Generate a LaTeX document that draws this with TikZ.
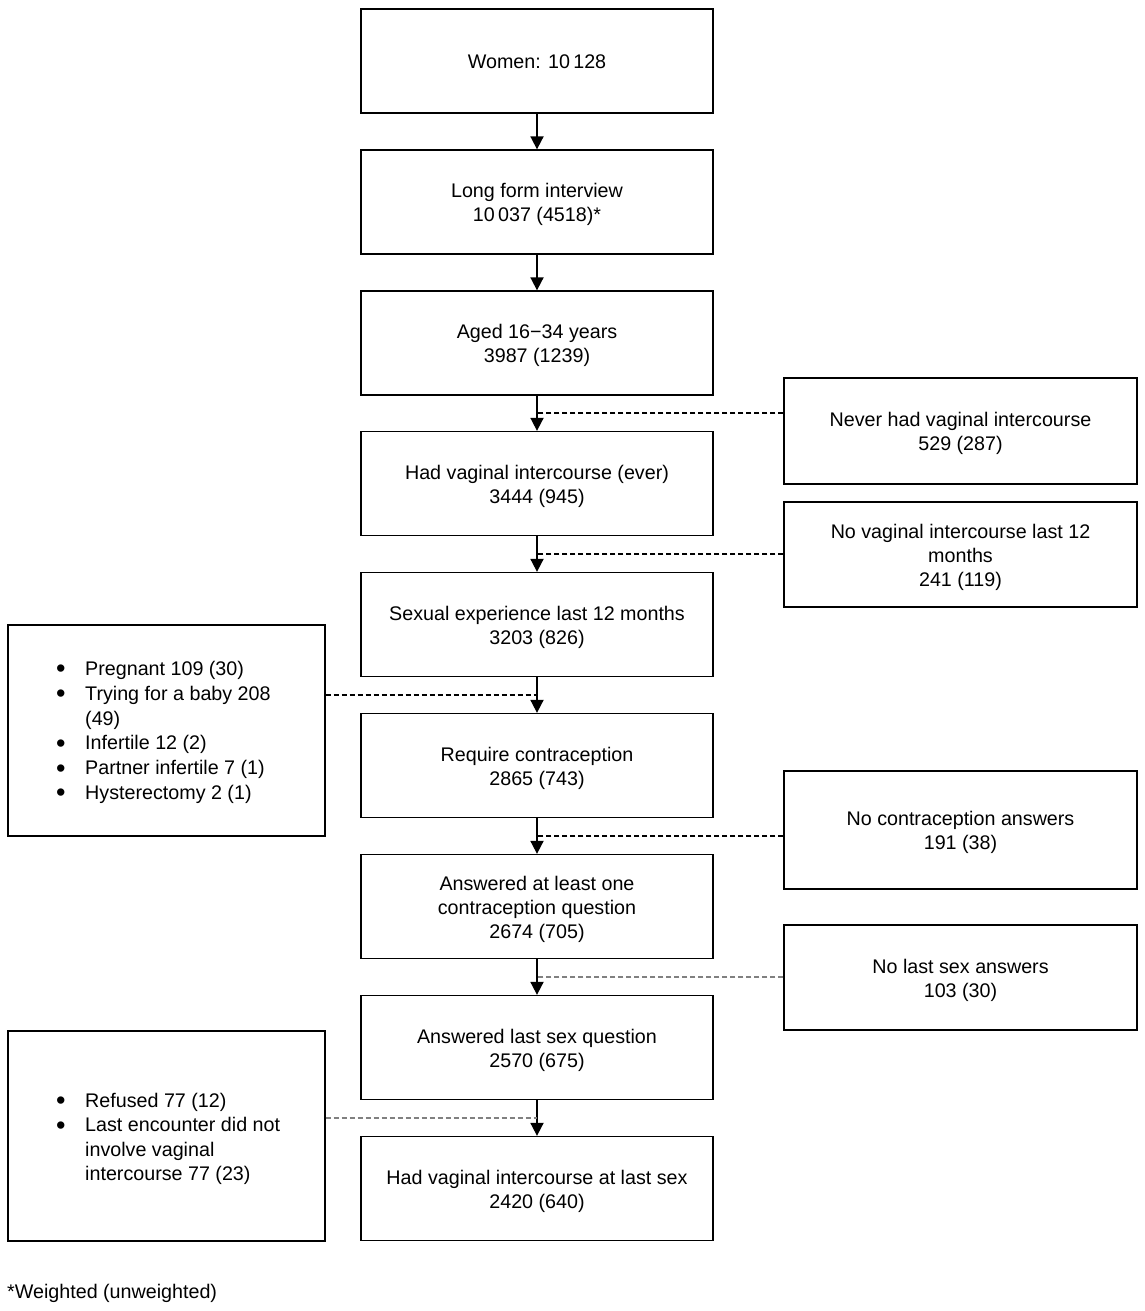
\documentclass[tikz,border=0pt]{standalone}
\usepackage{fontspec}
\setmainfont{Liberation Sans}
\usetikzlibrary{calc,arrows.meta}
\newcommand\bul{\makebox[28pt][l]{\hspace*{-1pt}\raisebox{-2.5pt}{\fontsize{27}{27}\selectfont\textbullet}}}
\newcommand\tx[1]{\raisebox{-3pt}[\height][\depth]{\begin{tabular}{@{}c@{}}#1\end{tabular}}}
\begin{document}
\begin{tikzpicture}[x=1pt,y=-1pt,
  box/.style={draw,line width=1.3pt,align=center,inner sep=0pt,font=\fontsize{19.7}{24}\selectfont},
  mainbox/.style={box,minimum width=352pt,minimum height=104pt},
  sidebox/.style={box,minimum width=353pt},
  leftbox/.style={box,minimum width=317pt},
  arr/.style={line width=1.8pt,-{Triangle[width=13pt,length=13pt]}},
  dsh/.style={line width=1.6pt,dash pattern=on 5pt off 3pt},
  gdsh/.style={dsh,draw=gray,line width=1.9pt}]
\useasboundingbox (0,0) rectangle (1145,1311);
\node[mainbox] (b1) at (537,61) {\tx{Women: 10\,128}};
\node[mainbox] (b2) at (537,202) {\tx{Long form interview\\10\,037 (4518)*}};
\node[mainbox] (b3) at (537,343) {\tx{Aged 16\textminus34 years\\3987 (1239)}};
\node[mainbox] (b4) at (537,483.5) {\tx{Had vaginal intercourse (ever)\\3444 (945)}};
\node[mainbox] (b5) at (537,624.5) {\tx{Sexual experience last 12 months\\3203 (826)}};
\node[mainbox] (b6) at (537,765.5) {\tx{Require contraception\\2865 (743)}};
\node[mainbox] (b7) at (537,906.5) {\tx{Answered at least one\\contraception question\\2674 (705)}};
\node[mainbox] (b8) at (537,1047.5) {\tx{Answered last sex question\\2570 (675)}};
\node[mainbox] (b9) at (537,1188.5) {\tx{Had vaginal intercourse at last sex\\2420 (640)}};
\node[sidebox,minimum height=106pt] (r1) at (960.5,431) {\tx{Never had vaginal intercourse\\529 (287)}};
\node[sidebox,minimum height=105pt] (r2) at (960.5,554.5) {\tx{No vaginal intercourse last 12\\months\\241 (119)}};
\node[sidebox,minimum height=118pt] (r3) at (960.5,830) {\tx{No contraception answers\\191 (38)}};
\node[sidebox,minimum height=105pt] (r4) at (960.5,977.5) {\tx{No last sex answers\\103 (30)}};
\node[leftbox,minimum height=211pt] (l1) at (166.5,730.5) {};
\node[leftbox,minimum height=210pt] (l2) at (166.5,1136) {};
\node[anchor=north west,align=left,inner sep=0pt,font=\fontsize{19.7}{24.8}\selectfont] (l1t) at (57,661)
 {\bul Pregnant 109 (30)\\\bul Trying for a baby 208\\\hspace*{28pt}(49)\\\bul Infertile 12 (2)\\\bul Partner infertile 7 (1)\\\bul Hysterectomy 2 (1)};
\node[anchor=north west,align=left,inner sep=0pt,font=\fontsize{19.7}{24.5}\selectfont] (l2t) at (57,1093)
 {\bul Refused 77 (12)\\\bul Last encounter did not\\\hspace*{28pt}involve vaginal\\\hspace*{28pt}intercourse 77 (23)};
\node[anchor=west,inner sep=0pt,font=\fontsize{19.7}{24}\selectfont] (fn) at (7,1293) {*Weighted (unweighted)};
\foreach \a/\b in {b1/b2,b2/b3,b3/b4,b4/b5,b5/b6,b6/b7,b7/b8,b8/b9}
  \draw[arr] (\a.south) -- (\b.north);
\coordinate (j1) at ($(b3.south)!0.5!(b4.north)$);
\coordinate (j2) at ($(b4.south)!0.5!(b5.north)$);
\coordinate (j3) at ($(b5.south)!0.5!(b6.north)$);
\coordinate (j4) at ($(b6.south)!0.5!(b7.north)$);
\coordinate (j5) at ($(b7.south)!0.5!(b8.north)$);
\coordinate (j6) at ($(b8.south)!0.5!(b9.north)$);
\draw[dsh] (r1.west |- j1) -- (j1);
\draw[dsh] (r2.west |- j2) -- (j2);
\draw[dsh] (l1.east |- j3) -- (j3);
\draw[dsh] (r3.west |- j4) -- (j4);
\draw[gdsh] (r4.west |- j5) -- (j5);
\draw[gdsh] (l2.east |- j6) -- (j6);
\end{tikzpicture}
\end{document}
